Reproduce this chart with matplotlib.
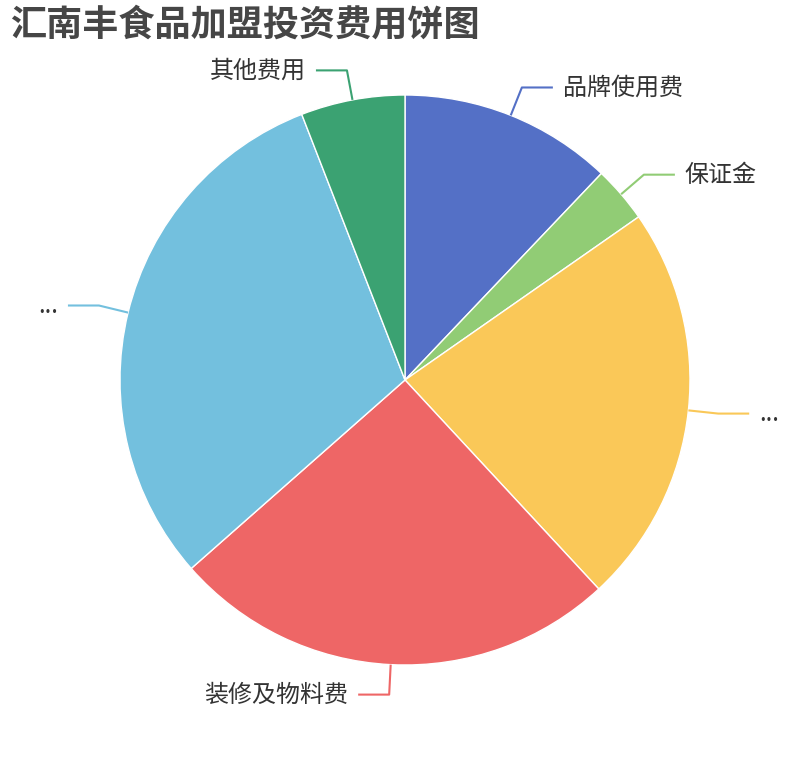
import numpy as np
import matplotlib
matplotlib.use('Agg')
import matplotlib.pyplot as plt

plt.rcParams['font.family'] = ['Noto Sans CJK SC', 'DejaVu Sans']

# data (shares, clockwise from 12 o'clock)
names = ['品牌使用费', '保证金', '...', '装修及物料费', '...', '其他费用']
values = [12.1, 3.2, 22.8, 25.4, 30.6, 5.9]
colors = ['#5470c6', '#91cc75', '#fac858', '#ee6666', '#73c0de', '#3ba272']
title = '汇南丰食品加盟投资费用饼图'

W, H = 810, 760
cx, cy, R = 405, 380, 285

fig = plt.figure(figsize=(W / 100, H / 100), dpi=100)
ax = fig.add_axes([0, 0, 1, 1])

wedges, _ = ax.pie(values, colors=colors, startangle=90, counterclock=False,
                   radius=R, center=(cx, cy),
                   wedgeprops=dict(edgecolor='white', linewidth=1))
ax.set_xlim(0, W)
ax.set_ylim(0, H)
ax.set_aspect('equal')
ax.axis('off')

# label guide lines
for w, name, c in zip(wedges, names, colors):
    mid = np.deg2rad((w.theta1 + w.theta2) / 2)
    x0, y0 = cx + R * np.cos(mid), cy + R * np.sin(mid)
    x1, y1 = cx + 315 * np.cos(mid), cy + 315 * np.sin(mid)
    side = 1 if np.cos(mid) >= 0 else -1
    x2 = x1 + side * 31
    ax.plot([x0, x1, x2], [y0, y1, y1], color=c, linewidth=1.5, solid_capstyle='butt')
    ax.text(x2 + side * 10, y1, name, fontsize=17.3, color='#333333',
            ha='left' if side > 0 else 'right', va='center')

fig.text(10 / W, 1 - 25 / H, title, fontsize=26, fontweight='bold',
         color='#464646', ha='left', va='center')

fig.savefig('out.png', dpi=100)
